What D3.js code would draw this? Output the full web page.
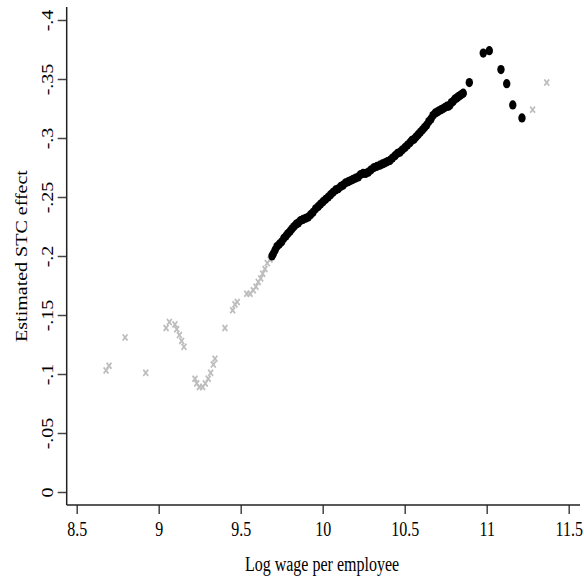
<!DOCTYPE html>
<html>
<head>
<meta charset="utf-8">
<script src="https://cdn.jsdelivr.net/npm/d3@7"></script>
<style>
  body { margin: 0; background: #fff; }
  text { font-family: "Liberation Serif", "Times New Roman", serif; font-size: 20px; fill: #000; }
</style>
</head>
<body>
<div id="graph"></div>
<script>
// grey crosses = estimates outside the plotted range, black dots = main estimates
const grayX = [8.679, 8.697, 8.795, 8.921, 9.045, 9.065, 9.099, 9.110, 9.126, 9.140, 9.154,
  9.221, 9.232, 9.248, 9.268, 9.284, 9.302, 9.317, 9.333, 9.343, 9.404, 9.451, 9.465, 9.479,
  9.537, 9.557, 9.577, 9.593, 9.607, 9.622, 9.634, 9.648, 9.662, 9.679, 11.280, 11.366];
const grayY = [-0.103, -0.107, -0.131, -0.101, -0.139, -0.144, -0.142, -0.138, -0.133, -0.128, -0.123,
  -0.096, -0.092, -0.089, -0.089, -0.092, -0.096, -0.101, -0.108, -0.113, -0.139, -0.154, -0.159, -0.161,
  -0.168, -0.168, -0.171, -0.174, -0.178, -0.181, -0.185, -0.189, -0.194, -0.197, -0.324, -0.347];

const blackX = [9.691, 9.699, 9.710, 9.721, 9.735, 9.750, 9.763, 9.776, 9.788, 9.801,
  9.813, 9.825, 9.838, 9.851, 9.865, 9.880, 9.896, 9.912, 9.926, 9.941,
  9.957, 9.973, 9.987, 10.002, 10.018, 10.034, 10.048, 10.063, 10.079, 10.095,
  10.110, 10.124, 10.140, 10.156, 10.170, 10.185, 10.201, 10.217, 10.231, 10.246,
  10.262, 10.278, 10.295, 10.313, 10.331, 10.349, 10.364, 10.380, 10.395, 10.410,
  10.425, 10.441, 10.456, 10.471, 10.486, 10.502, 10.517, 10.532, 10.544, 10.557,
  10.570, 10.583, 10.596, 10.609, 10.621, 10.634, 10.647, 10.660, 10.672, 10.685,
  10.697, 10.709, 10.722, 10.735, 10.746, 10.758, 10.767, 10.776, 10.785, 10.795,
  10.806, 10.817, 10.827, 10.837, 10.847, 10.857,
  10.894, 10.979, 11.016, 11.087, 11.122, 11.159, 11.215];
const blackY = [-0.200, -0.202, -0.205, -0.208, -0.210, -0.212, -0.215, -0.217, -0.219, -0.221,
  -0.223, -0.225, -0.227, -0.228, -0.230, -0.231, -0.232, -0.233, -0.235, -0.237,
  -0.240, -0.242, -0.244, -0.246, -0.248, -0.250, -0.252, -0.254, -0.256, -0.257,
  -0.259, -0.260, -0.262, -0.263, -0.264, -0.265, -0.266, -0.267, -0.269, -0.270,
  -0.270, -0.271, -0.273, -0.275, -0.276, -0.277, -0.278, -0.279, -0.280, -0.281,
  -0.283, -0.285, -0.287, -0.288, -0.290, -0.292, -0.294, -0.296, -0.298, -0.299,
  -0.301, -0.303, -0.305, -0.307, -0.309, -0.311, -0.314, -0.316, -0.319, -0.321,
  -0.322, -0.323, -0.324, -0.325, -0.326, -0.327, -0.327, -0.328, -0.330, -0.331,
  -0.333, -0.334, -0.335, -0.336, -0.337, -0.338,
  -0.347, -0.372, -0.374, -0.358, -0.346, -0.328, -0.317];

const xTicks = [8.5, 9, 9.5, 10, 10.5, 11, 11.5];
const xTickLabels = ['8.5', '9', '9.5', '10', '10.5', '11', '11.5'];
const yTicks = [0, -0.05, -0.1, -0.15, -0.2, -0.25, -0.3, -0.35, -0.4];
const yTickLabels = ['0', '-.05', '-.1', '-.15', '-.2', '-.25', '-.3', '-.35', '-.4'];

const width = 584;
const height = 578;
const left = 66.7;
const bottom = 505;
const sx = 0.8; // the picture is squeezed sideways

const xScale = d3.scaleLinear().domain([8.5, 11.5]).range([76.7, 568.7]);
const yScale = d3.scaleLinear().domain([0, -0.4]).range([492, 20]);

const svg = d3.select('#graph')
  .append('svg')
  .attr('width', width)
  .attr('height', height);

// y axis
const yAxis = svg.append('g')
  .attr('transform', 'translate(' + left + ',0)')
  .call(d3.axisLeft(yScale).tickValues(yTicks).tickFormat((d, i) => yTickLabels[i]).tickSize(9));
yAxis.select('.domain').remove();
yAxis.selectAll('.tick line').attr('stroke', '#444').attr('stroke-width', 1.5);
yAxis.selectAll('.tick text')
  .attr('x', null).attr('dy', null)
  .attr('fill', '#000')
  .attr('text-anchor', 'middle')
  .attr('transform', 'translate(-14,0) scale(' + sx + ',1) rotate(-90)');

// x axis
const xAxis = svg.append('g')
  .attr('transform', 'translate(0,' + bottom + ')')
  .call(d3.axisBottom(xScale).tickValues(xTicks).tickFormat((d, i) => xTickLabels[i]).tickSize(9));
xAxis.select('.domain').remove();
xAxis.selectAll('.tick line').attr('stroke', '#444').attr('stroke-width', 1.5);
xAxis.selectAll('.tick text')
  .attr('y', null).attr('dy', null)
  .attr('fill', '#000')
  .attr('transform', 'translate(0,31) scale(' + sx + ',1)');

// frame lines
svg.append('line')
  .attr('x1', left).attr('x2', left)
  .attr('y1', 7).attr('y2', bottom)
  .attr('stroke', '#222').attr('stroke-width', 1.5);
svg.append('line')
  .attr('x1', left).attr('x2', 580)
  .attr('y1', bottom).attr('y2', bottom)
  .attr('stroke', '#222').attr('stroke-width', 1.5);

// titles
svg.append('text')
  .attr('text-anchor', 'middle')
  .attr('transform', 'translate(322,571) scale(' + sx + ',1)')
  .text('Log wage per employee');
svg.append('text')
  .attr('text-anchor', 'middle')
  .attr('transform', 'translate(27,256) scale(' + sx + ',1) rotate(-90)')
  .text('Estimated STC effect');

// grey crosses
const crossPath = d3.symbol(d3.symbolX, 26)();
svg.append('g')
  .selectAll('path')
  .data(grayX)
  .enter()
  .append('path')
    .attr('d', crossPath)
    .attr('transform', (d, i) => 'translate(' + xScale(d) + ',' + yScale(grayY[i]) + ') scale(' + sx + ',1)')
    .attr('fill', 'none')
    .attr('stroke', '#bdbdbd')
    .attr('stroke-width', 2);

// black dots
svg.append('g')
  .selectAll('ellipse')
  .data(blackX)
  .enter()
  .append('ellipse')
    .attr('cx', d => xScale(d))
    .attr('cy', (d, i) => yScale(blackY[i]))
    .attr('rx', 3.7)
    .attr('ry', 4.6)
    .attr('fill', '#000');
</script>
</body>
</html>
